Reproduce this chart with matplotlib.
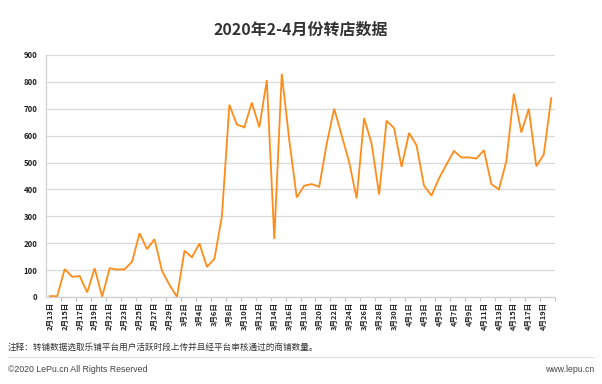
import numpy as np
import matplotlib
matplotlib.use("Agg")
import matplotlib.pyplot as plt

plt.rcParams['font.family'] = ['Noto Sans CJK SC', 'DejaVu Sans']

# dates 2/13 .. 4/20
dates = ([f"2月{d}日" for d in range(13, 30)] +
         [f"3月{d}日" for d in range(1, 32)] +
         [f"4月{d}日" for d in range(1, 21)])

values = [3, 3, 104, 75, 78, 17, 107, 1, 107, 102, 103, 131, 237, 178, 215, 97, 45,
          0, 172, 148, 199, 112, 142, 301, 715, 641, 631, 723, 631, 807, 216, 830,
          583, 370, 414, 420, 410, 570, 700, 601, 502, 367, 665, 570, 381, 656, 628,
          484, 610, 564, 414, 377, 441, 493, 543, 519, 519, 515, 546, 420, 400, 505,
          756, 612, 700, 486, 530, 740]

yticks = [0, 100, 200, 300, 400, 500, 600, 700, 800, 900]

fig = plt.figure(figsize=(6.02, 3.84), dpi=100)
ax = fig.add_axes([46/602, 1-297/384, (555-46)/602, (297-55)/384])

x = np.arange(len(values))
ax.plot(x, values, color='#FF8C1A', lw=1.3, solid_joinstyle='miter')

ax.set_xlim(-0.5, len(values)-0.5)
ax.set_ylim(0, 900)
ax.set_yticks(yticks)
ax.set_yticklabels([str(v) for v in yticks], fontsize=5.6, color='#222222', fontweight='bold')
ax.grid(axis='y', color='#D9D9D9', lw=0.9)
ax.set_axisbelow(True)

ax.set_xticks(x[::2])
ax.set_xticklabels(dates[::2], rotation=90, fontsize=5.4, color='#222222', fontweight='bold')
ax.set_xticks(np.arange(1.5, len(values), 2), minor=True)
ax.tick_params(axis='x', which='major', length=0, pad=3.5)
ax.tick_params(axis='x', which='minor', length=3, color='#BFBFBF', width=0.8)
ax.tick_params(axis='y', length=0, pad=6)

for s in ['top', 'right']:
    ax.spines[s].set_visible(False)
ax.spines['left'].set_color('#D0D0D0')
ax.spines['bottom'].set_color('#D0D0D0')
ax.spines['left'].set_linewidth(0.9)
ax.spines['bottom'].set_linewidth(0.9)

fig.text(0.5, 1-30/384, "2020年2-4月份转店数据", ha='center', va='center',
         fontsize=11.5, fontweight='bold', color='#333333')

fig.text(8/602, 1-347/384, "注释：转铺数据选取乐铺平台用户活跃时段上传并且经平台审核通过的商铺数量。",
         ha='left', va='center', fontsize=6.2, color='#333333')

fig.add_artist(plt.Line2D([8/602, 594/602], [1-357/384, 1-357/384], color='#E0E0E0', lw=0.8))

fig.text(8/602, 1-369/384, "©2020 LePu.cn All Rights Reserved", ha='left', va='center',
         fontsize=6.3, color='#444444', family=['Liberation Sans', 'DejaVu Sans'])
fig.text(594/602, 1-369/384, "www.lepu.cn", ha='right', va='center',
         fontsize=6.3, color='#444444', family=['Liberation Sans', 'DejaVu Sans'])

fig.savefig("out.png", dpi=100)
